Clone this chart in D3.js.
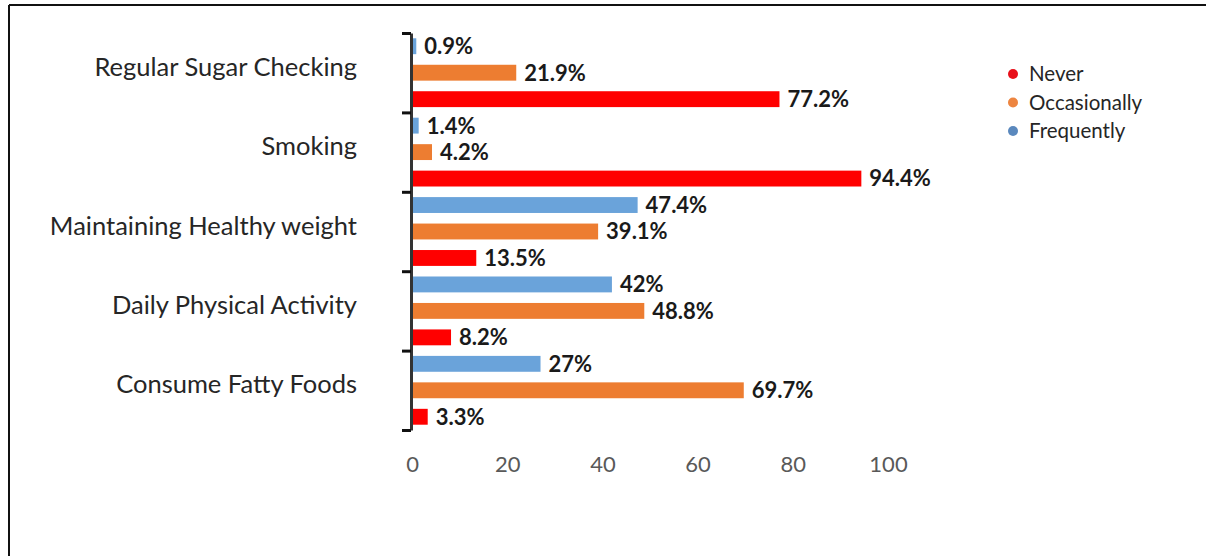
<!DOCTYPE html>
<html>
<head>
<meta charset="utf-8">
<script src="https://cdn.jsdelivr.net/npm/d3@7"></script>
<style>
  html, body { margin: 0; padding: 0; background: #fff; }
  svg { display: block; }
</style>
</head>
<body>
<svg id="chart" width="1206" height="556"></svg>
<script>
// Health behaviours by frequency (percent of respondents)
const categories = [
  "Regular Sugar Checking",
  "Smoking",
  "Maintaining Healthy weight",
  "Daily Physical Activity",
  "Consume Fatty Foods"
];
const seriesNames = ["Frequently", "Occasionally", "Never"];
const frequently  = [0.9, 1.4, 47.4, 42, 27];
const occasionally = [21.9, 4.2, 39.1, 48.8, 69.7];
const never       = [77.2, 94.4, 13.5, 8.2, 3.3];
const xTicks = [0, 20, 40, 60, 80, 100];
const legendOrder = ["Never", "Occasionally", "Frequently"];

const seriesValues = { Frequently: frequently, Occasionally: occasionally, Never: never };
const colors = { Frequently: "#6aa3da", Occasionally: "#ed7d31", Never: "#ff0000" };
const legendColors = { Frequently: "#5a88bd", Occasionally: "#ed8540", Never: "#e8101a" };

const svg = d3.select("#chart");
const labelFont = "Lato, 'Open Sans', sans-serif";

// frame lines along the top and left edge
svg.append("line").attr("x1", 9).attr("y1", 5).attr("x2", 1206).attr("y2", 5)
  .attr("stroke", "#111").attr("stroke-width", 2);
svg.append("line").attr("x1", 9).attr("y1", 5).attr("x2", 9).attr("y2", 556)
  .attr("stroke", "#111").attr("stroke-width", 2);

const x = d3.scaleLinear().domain([0, 100]).range([412, 888]);
const y = d3.scaleBand().domain(categories).range([33, 430]).padding(0);
const ySub = d3.scaleBand().domain(seriesNames).range([0, y.bandwidth()])
  .paddingInner(0.4).paddingOuter(0.2);

// bars
const rows = [];
categories.forEach((c, i) => {
  seriesNames.forEach(s => rows.push({ cat: c, series: s, value: seriesValues[s][i] }));
});

const g = svg.append("g");
g.selectAll("rect.bar").data(rows).join("rect")
  .attr("class", "bar")
  .attr("x", x(0))
  .attr("y", d => y(d.cat) + ySub(d.series))
  .attr("width", d => x(d.value) - x(0))
  .attr("height", ySub.bandwidth())
  .attr("fill", d => colors[d.series]);

// value labels
g.selectAll("text.val").data(rows).join("text")
  .attr("class", "val")
  .attr("x", d => x(d.value) + 8)
  .attr("y", d => y(d.cat) + ySub(d.series) + ySub.bandwidth() / 2)
  .attr("dy", "0.36em")
  .attr("font-family", labelFont)
  .attr("font-weight", 700)
  .attr("font-size", 22)
  .attr("fill", "#1a1a1a")
  .text(d => d.value + "%");

// category axis with ticks on the band boundaries
const yEdges = d3.scaleLinear().domain([0, categories.length]).range([33, 430]);
const yAxis = svg.append("g").attr("transform", `translate(${x(0) - 1},0)`)
  .call(d3.axisLeft(yEdges).ticks(categories.length).tickSize(9).tickSizeOuter(0).tickFormat(""));
yAxis.select(".domain").attr("stroke", "#333").attr("stroke-width", 3);
yAxis.selectAll(".tick line").attr("stroke", "#111").attr("stroke-width", 3);

// category names
svg.append("g").selectAll("text").data(categories).join("text")
  .attr("x", 357)
  .attr("y", d => y(d) + y.bandwidth() / 2 - 6)
  .attr("dy", "0.36em")
  .attr("text-anchor", "end")
  .attr("font-family", labelFont)
  .attr("font-size", 25.5)
  .attr("fill", "#262626")
  .text(d => d);

// value axis labels
const xAxis = svg.append("g").attr("transform", "translate(0,430)")
  .call(d3.axisBottom(x).tickValues(xTicks).tickSize(0).tickPadding(26));
xAxis.select(".domain").remove();
xAxis.selectAll("text")
  .attr("font-family", labelFont)
  .attr("font-size", 22)
  .attr("fill", "#595959");

// legend
const legend = svg.append("g").selectAll("g").data(legendOrder).join("g")
  .attr("transform", (d, i) => `translate(1013,${74 + i * 28.5})`);
legend.append("circle").attr("r", 5).attr("fill", d => legendColors[d]);
legend.append("text")
  .attr("x", 16).attr("dy", "0.36em")
  .attr("font-family", labelFont)
  .attr("font-size", 20.5)
  .attr("fill", "#262626")
  .text(d => d);
</script>
</body>
</html>
